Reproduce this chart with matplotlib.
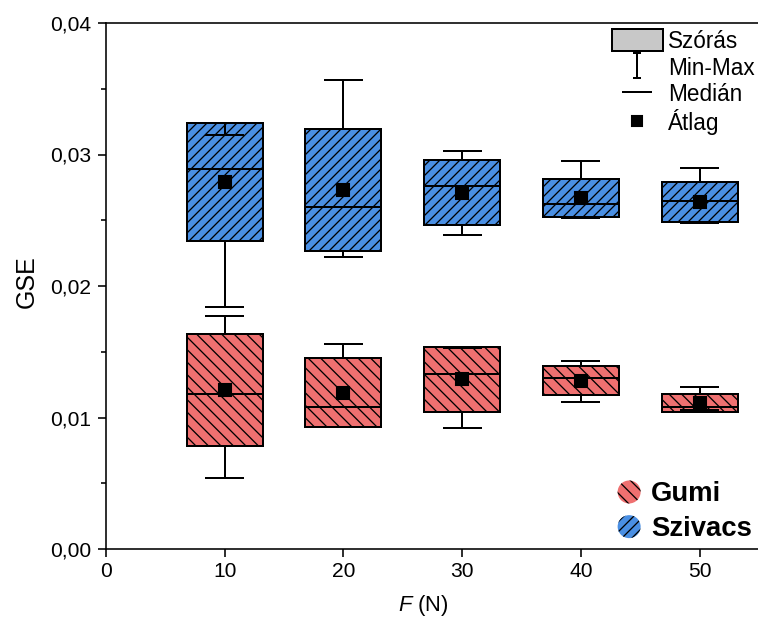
#!/usr/bin/env python3

import numpy as np
import matplotlib
matplotlib.use("Agg")
from matplotlib import pyplot as plt
from matplotlib import patches as mpatches
from matplotlib.lines import Line2D
from matplotlib.path import Path
from matplotlib.legend_handler import HandlerPatch
from matplotlib import ticker

# terhelő erő (N)
force = [10, 20, 30, 40, 50]

# Szivacs (kék)
szivacs_mean = [0.0279, 0.0273, 0.0271, 0.0267, 0.0264]
szivacs_sd = [0.00446, 0.00467, 0.00248, 0.00147, 0.00154]
szivacs_median = [0.0289, 0.0260, 0.0276, 0.0262, 0.0265]
szivacs_min = [0.0184, 0.0222, 0.0239, 0.0252, 0.0248]
szivacs_max = [0.0315, 0.0357, 0.0303, 0.0295, 0.0290]

# Gumi (piros)
gumi_mean = [0.0121, 0.0119, 0.0129, 0.0128, 0.0111]
gumi_sd = [0.00427, 0.00266, 0.00247, 0.00112, 0.00065]
gumi_median = [0.0118, 0.0108, 0.0133, 0.0130, 0.0108]
gumi_min = [0.0054, 0.0093, 0.0092, 0.0112, 0.0106]
gumi_max = [0.0177, 0.0156, 0.0153, 0.0143, 0.0123]

DPI = 150
PT = 72.0 / DPI          # 1 px in points

BLUE = "#4a8fe3"
RED = "#ef7070"
BLUE_HATCH = "/////"
RED_HATCH = "\\\\\\\\"
BOX_W = 6.4
CAP_W = 3.3
LW = 2.0 * PT

plt.rcParams["font.family"] = ["Liberation Sans", "DejaVu Sans"]
plt.rcParams["mathtext.fontset"] = "custom"
plt.rcParams["mathtext.rm"] = "Liberation Sans"
plt.rcParams["mathtext.it"] = "Liberation Sans:italic"
plt.rcParams["hatch.linewidth"] = 1.3 * PT

fig = plt.figure(figsize=(759 / DPI, 621 / DPI), dpi=DPI)
ax = fig.add_axes([106 / 759, 72 / 621, 653 / 759, 526 / 621])


def draw_series(mean, sd, median, vmin, vmax, color, hatch):
    x = np.array(force, dtype=float)
    mean = np.array(mean)
    sd = np.array(sd)
    low = mean - sd
    high = mean + sd
    ax.bar(x, 2 * sd, bottom=low, width=BOX_W, color=color,
           edgecolor="black", linewidth=LW, hatch=hatch, zorder=2)
    ax.vlines(x, high, vmax, colors="black", linewidth=LW, zorder=3)
    ax.vlines(x, low, vmin, colors="black", linewidth=LW, zorder=3)
    ax.hlines(vmax, x - CAP_W / 2, x + CAP_W / 2, colors="black", linewidth=LW, zorder=3)
    ax.hlines(vmin, x - CAP_W / 2, x + CAP_W / 2, colors="black", linewidth=LW, zorder=3)
    ax.hlines(median, x - BOX_W / 2, x + BOX_W / 2, colors="black", linewidth=LW, zorder=3)
    ax.plot(x, mean, "s", color="black", markersize=11.5 * PT, zorder=4)


draw_series(szivacs_mean, szivacs_sd, szivacs_median, szivacs_min, szivacs_max, BLUE, BLUE_HATCH)
draw_series(gumi_mean, gumi_sd, gumi_median, gumi_min, gumi_max, RED, RED_HATCH)

ax.set_xlim(0, 55)
ax.set_ylim(0, 0.04)
ax.xaxis.set_major_locator(ticker.MultipleLocator(10))
ax.yaxis.set_major_locator(ticker.MultipleLocator(0.01))
ax.yaxis.set_minor_locator(ticker.MultipleLocator(0.005))
ax.yaxis.set_major_formatter(ticker.FuncFormatter(lambda v, p: f"{v:.2f}".replace(".", ",")))

ax.spines["right"].set_visible(False)
for s in ("left", "bottom", "top"):
    ax.spines[s].set_linewidth(1.6 * PT)
ax.tick_params(which="major", direction="out", length=8 * PT, width=1.6 * PT,
               labelsize=21 * PT, pad=5 * PT)
ax.tick_params(which="minor", direction="out", length=5 * PT, width=1.6 * PT)
ax.tick_params(axis="y", pad=7 * PT)

ax.set_ylabel("GSE", fontsize=25 * PT)
ax.set_xlabel(r"$\mathit{F}$ (N)", fontsize=22 * PT)
ax.yaxis.set_label_coords(-0.103, 0.508)
ax.xaxis.set_label_coords(0.4855, -0.083)

# statisztika jelmagyarázat
ibeam = Path([(-0.3, 1), (0.3, 1), (0, 1), (0, -1), (-0.3, -1), (0.3, -1)],
             [Path.MOVETO, Path.LINETO, Path.MOVETO, Path.LINETO, Path.MOVETO, Path.LINETO])
stat_handles = [
    mpatches.Patch(facecolor="#c8c8c8", edgecolor="black", linewidth=LW),
    Line2D([], [], marker=ibeam, linestyle="none", markersize=25 * PT,
           markeredgecolor="black", markeredgewidth=LW, markerfacecolor="none"),
    Line2D([], [], marker="_", linestyle="none", markersize=30 * PT,
           markeredgecolor="black", markeredgewidth=LW),
    Line2D([], [], marker="s", linestyle="none", markersize=11 * PT, color="black"),
]
stat_labels = ["Szórás", "Min-Max", "Medián", "Átlag"]
fs1 = 22.5 * PT
leg1 = ax.legend(stat_handles, stat_labels, loc="upper right", bbox_to_anchor=(1.0, 0.997),
                 frameon=False, fontsize=fs1, handlelength=51 / 22.5, handleheight=26 / 22.5,
                 handletextpad=0.22, labelspacing=0.13, borderpad=0.2, borderaxespad=0.0)
ax.add_artist(leg1)


def make_circle(legend, orig_handle, xdescent, ydescent, width, height, fontsize):
    r = min(width, height) / 2
    return mpatches.Circle((width / 2 - xdescent, height / 2 - ydescent), r)


gumi_h = mpatches.Patch(facecolor=RED, edgecolor="black", linewidth=0, hatch=RED_HATCH)
szivacs_h = mpatches.Patch(facecolor=BLUE, edgecolor="black", linewidth=0, hatch=BLUE_HATCH)
leg2 = ax.legend([gumi_h, szivacs_h], ["Gumi", "Szivacs"], loc="lower right",
                 bbox_to_anchor=(1.0, 0.0), frameon=False,
                 prop={"weight": "bold", "size": 27.5 * PT},
                 handlelength=25 / 27.5, handleheight=25 / 27.5, handletextpad=0.35,
                 labelspacing=0.28, borderpad=0.2, borderaxespad=0.05,
                 handler_map={gumi_h: HandlerPatch(patch_func=make_circle),
                              szivacs_h: HandlerPatch(patch_func=make_circle)})

plt.savefig("out.png", dpi=DPI)
